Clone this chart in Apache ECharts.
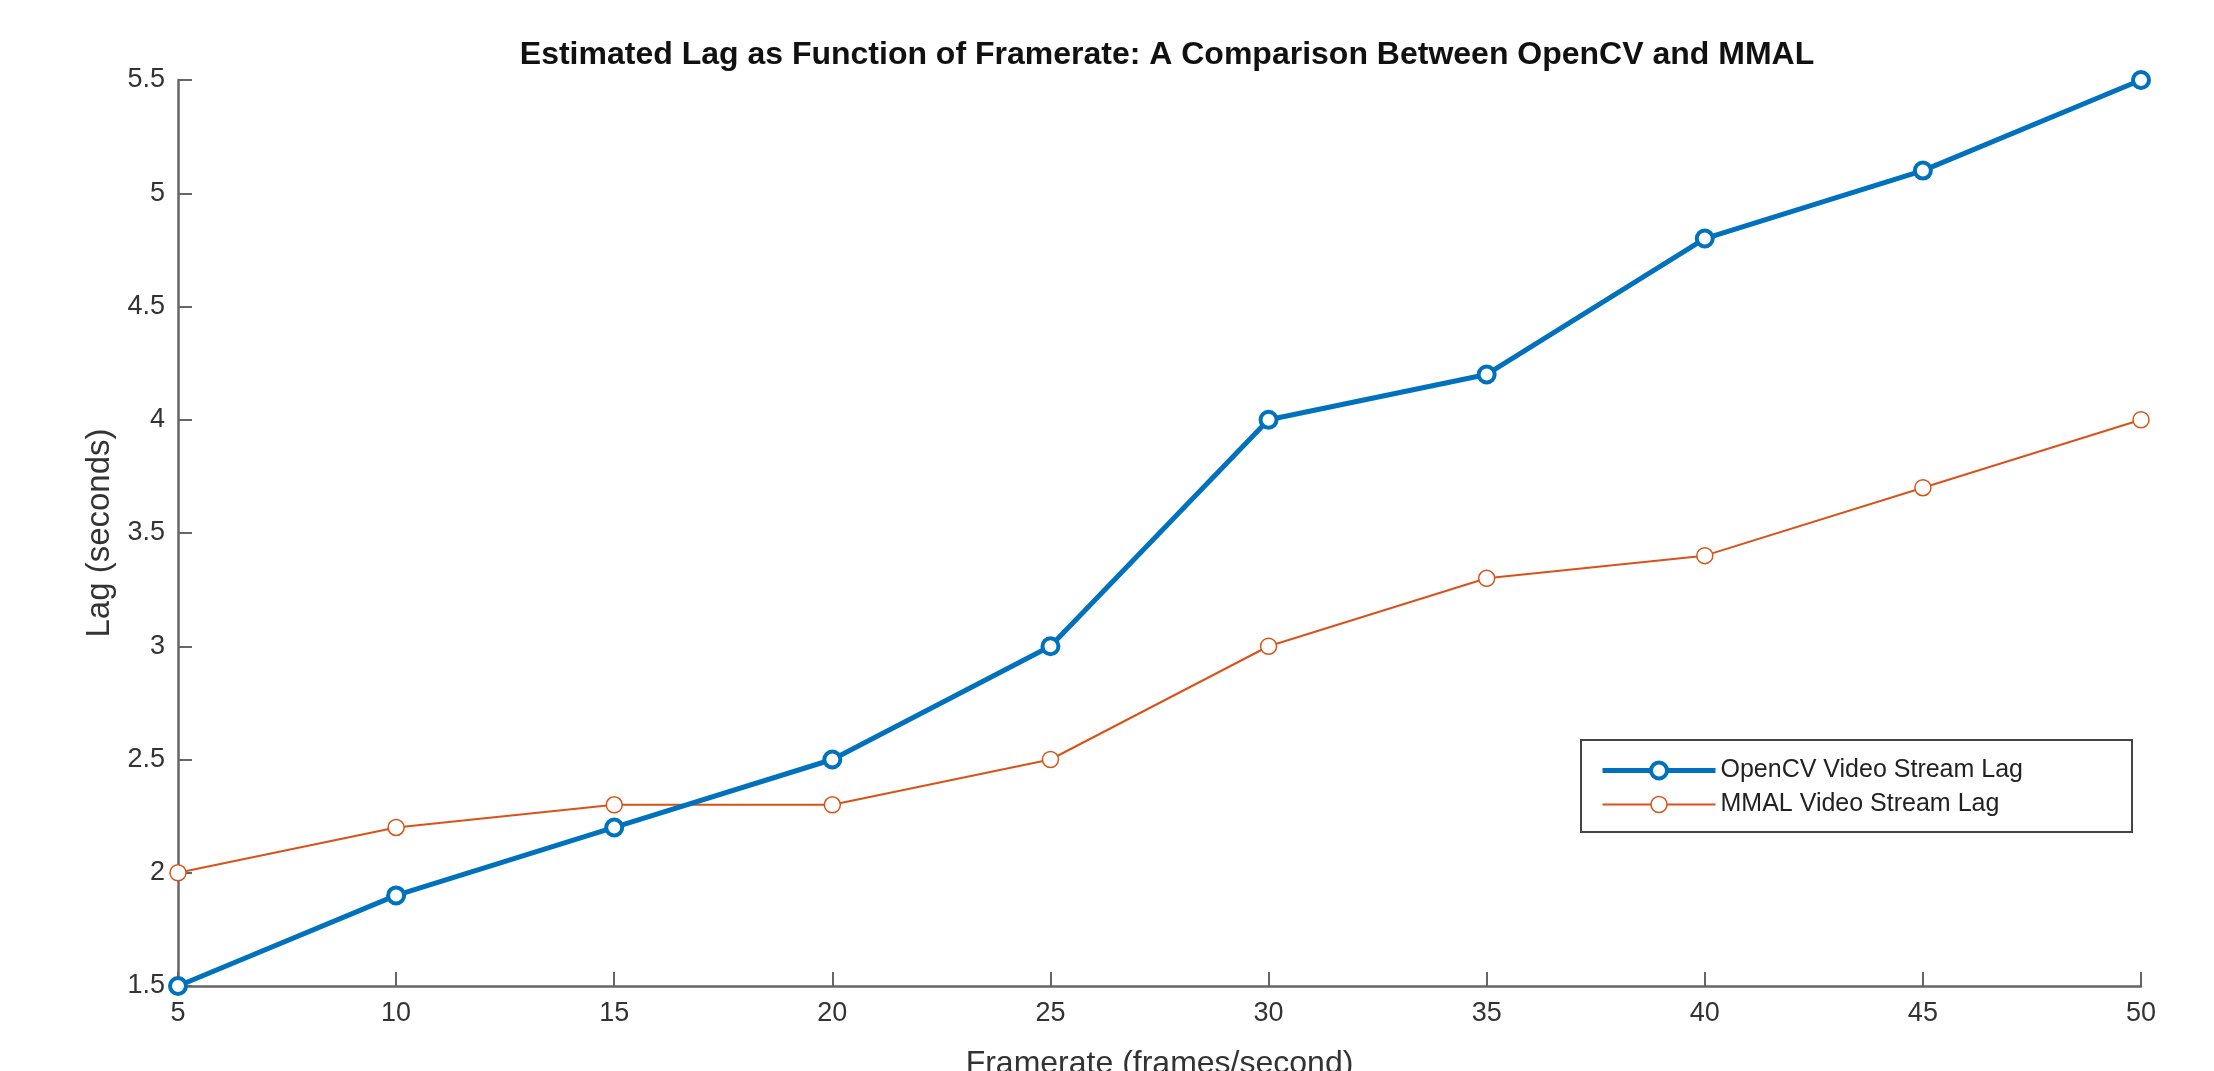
<!DOCTYPE html>
<html>
<head>
<meta charset="utf-8">
<script src="https://cdn.jsdelivr.net/npm/echarts@6/dist/echarts.min.js"></script>
<style>
html,body{margin:0;padding:0;background:#fff;overflow:hidden;}
#c{width:2214px;height:1071px;}
</style>
</head>
<body>
<div id="c"></div>
<script>
const framerates = [5, 10, 15, 20, 25, 30, 35, 40, 45, 50];
const opencvLag = [1.5, 1.9, 2.2, 2.5, 3.0, 4.0, 4.2, 4.8, 5.1, 5.5];
const mmalLag = [2.0, 2.2, 2.3, 2.3, 2.5, 3.0, 3.3, 3.4, 3.7, 4.0];
const seriesNames = ['OpenCV Video Stream Lag', 'MMAL Video Stream Lag'];
const titleText = 'Estimated Lag as Function of Framerate: A Comparison Between OpenCV and MMAL';
const xName = 'Framerate (frames/second)';
const yName = 'Lag (seconds)';

const blue = '#0072BD';
const orange = '#D95319';
const font = '"Liberation Sans", Arial, sans-serif';

const chart = echarts.init(document.getElementById('c'));
chart.setOption({
  animation: false,
  backgroundColor: '#fff',
  title: {
    text: titleText,
    left: 1162, textAlign: 'center',
    top: 34,
    textStyle: { fontFamily: font, fontWeight: 'bold', fontSize: 32, color: '#111' }
  },
  grid: { left: 178, right: 73, top: 80, bottom: 85, containLabel: false, outerBoundsMode: 'none' },
  legend: {
    orient: 'vertical',
    left: 1581, top: 740,
    itemWidth: 113, itemHeight: 20,
    itemGap: 9,
    padding: [18, 109, 15, 19],
    borderColor: '#444', borderWidth: 2,
    backgroundColor: '#fff',
    textStyle: { fontFamily: font, fontSize: 25, color: '#222' },
    data: [
      { name: seriesNames[0], lineStyle: { width: 5, color: blue }, itemStyle: { color: '#fff', borderColor: blue, borderWidth: 4 } },
      { name: seriesNames[1], lineStyle: { width: 2, color: orange }, itemStyle: { color: '#fff', borderColor: orange, borderWidth: 1.5 } }
    ]
  },
  xAxis: {
    type: 'value', min: 5, max: 50, interval: 5,
    name: xName, nameLocation: 'middle', nameGap: 62,
    nameTextStyle: { fontFamily: font, fontSize: 32, color: '#333' },
    axisLine: { show: true, onZero: false, lineStyle: { color: '#666', width: 2.5 } },
    axisTick: { show: true, inside: true, length: 14, lineStyle: { color: '#666', width: 2 } },
    axisLabel: { fontFamily: font, fontSize: 27, color: '#333', margin: 14 },
    splitLine: { show: false }
  },
  yAxis: {
    type: 'value', min: 1.5, max: 5.5, interval: 0.5,
    name: yName, nameLocation: 'middle', nameGap: 51, nameRotate: 90,
    nameTextStyle: { fontFamily: font, fontSize: 33, color: '#333' },
    axisLine: { show: true, onZero: false, lineStyle: { color: '#666', width: 2.5 } },
    axisTick: { show: true, inside: true, length: 14, lineStyle: { color: '#666', width: 2 } },
    axisLabel: { fontFamily: font, fontSize: 27, color: '#333', margin: 13 },
    splitLine: { show: false }
  },
  series: [
    {
      name: seriesNames[0], type: 'line',
      data: framerates.map((x, i) => [x, opencvLag[i]]),
      symbol: 'circle', symbolSize: 16,
      lineStyle: { color: blue, width: 5 },
      itemStyle: { color: '#fff', borderColor: blue, borderWidth: 4 },
      z: 3
    },
    {
      name: seriesNames[1], type: 'line',
      data: framerates.map((x, i) => [x, mmalLag[i]]),
      symbol: 'circle', symbolSize: 16,
      lineStyle: { color: orange, width: 2 },
      itemStyle: { color: '#fff', borderColor: orange, borderWidth: 1.5 },
      z: 2
    }
  ]
});
</script>
</body>
</html>
